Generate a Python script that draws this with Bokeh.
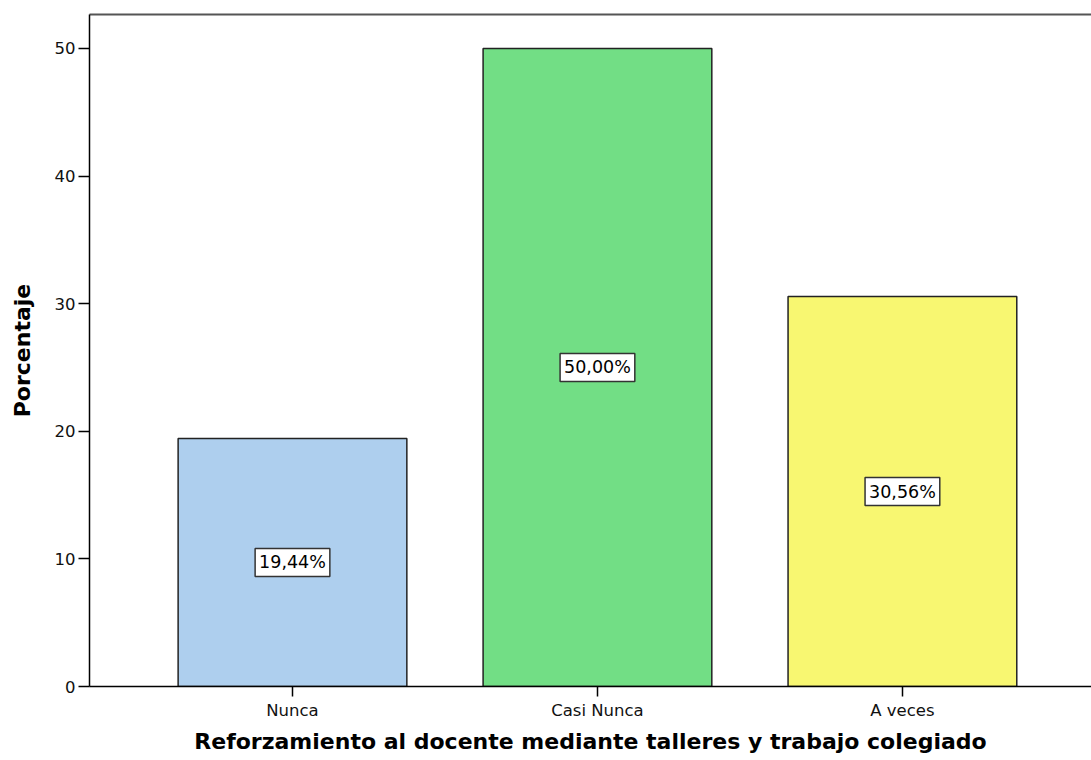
from bokeh.plotting import figure
from bokeh.models import Range1d, FixedTicker, ColumnDataSource, LinearAxis
from bokeh.core.properties import value
from bokeh.embed import file_html
from bokeh.resources import INLINE

categories = ["Nunca", "Casi Nunca", "A veces"]
percentages = [19.44, 50.00, 30.56]
value_labels = ["19,44%", "50,00%", "30,56%"]
colors = ["#AECFEE", "#72DE85", "#F8F771"]
y_ticks = [0, 10, 20, 30, 40, 50]

positions = [i + 0.5 for i in range(len(categories))]
src = ColumnDataSource(dict(
    x=positions,
    top=percentages,
    mid=[v / 2 for v in percentages],
    color=colors,
    lab=value_labels,
))

p = figure(
    frame_width=1002, frame_height=672,
    x_range=Range1d(-0.1656, 3.120), y_range=Range1d(0, 52.66),
    output_backend="svg", toolbar_location=None,
    min_border_left=89, min_border_right=0, min_border_top=14, min_border_bottom=0,
)
p.background_fill_color = "white"
p.border_fill_color = "white"
p.outline_line_color = None
p.xgrid.visible = False
p.ygrid.visible = False

p.vbar(x="x", top="top", bottom=0, width=0.75, source=src,
       fill_color="color", line_color="#222222", line_width=1.5)

p.text(x="x", y="mid", text="lab", source=src,
       text_align="center", text_baseline="middle",
       text_font=value("DejaVu Sans"), text_font_size="17.5px", text_color="black",
       background_fill_color="white", border_line_color="#333333",
       border_line_width=1.5, padding=4)

# axes
xa = p.below[0]
ya = p.left[0]
xa.ticker = FixedTicker(ticks=positions)
xa.major_label_overrides = {pos: c for pos, c in zip(positions, categories)}
ya.ticker = FixedTicker(ticks=y_ticks)
for ax in (xa, ya):
    ax.axis_line_color = "black"
    ax.axis_line_width = 1.5
    ax.major_tick_line_color = "black"
    ax.major_tick_line_width = 1.5
    ax.major_tick_in = 0
    ax.minor_tick_line_color = None
    ax.major_label_text_font = "DejaVu Sans"
    ax.major_label_text_font_size = "16.5px"
    ax.major_label_text_color = "#111111"
    ax.axis_label_text_font = "DejaVu Sans"
    ax.axis_label_text_font_style = "bold"
    ax.axis_label_text_font_size = "22px"
    ax.axis_label_text_color = "black"

xa.major_tick_out = 10
xa.major_label_standoff = 4
xa.axis_label = "Reforzamiento al docente mediante talleres y trabajo colegiado"
xa.axis_label_standoff = 6

ya.major_tick_out = 11
ya.major_label_standoff = 3
ya.axis_label = "Porcentaje"
ya.axis_label_standoff = 17

# top frame line (the chart is cut on the right, so no right border)
top_axis = LinearAxis(ticker=FixedTicker(ticks=[]), axis_line_color="#555555",
                      axis_line_width=2, major_tick_line_color=None,
                      minor_tick_line_color=None, major_label_text_font_size="0px",
                      major_tick_out=0, major_tick_in=0, major_label_standoff=0)
p.add_layout(top_axis, "above")

open("out.html", "w").write(file_html(p, INLINE))
